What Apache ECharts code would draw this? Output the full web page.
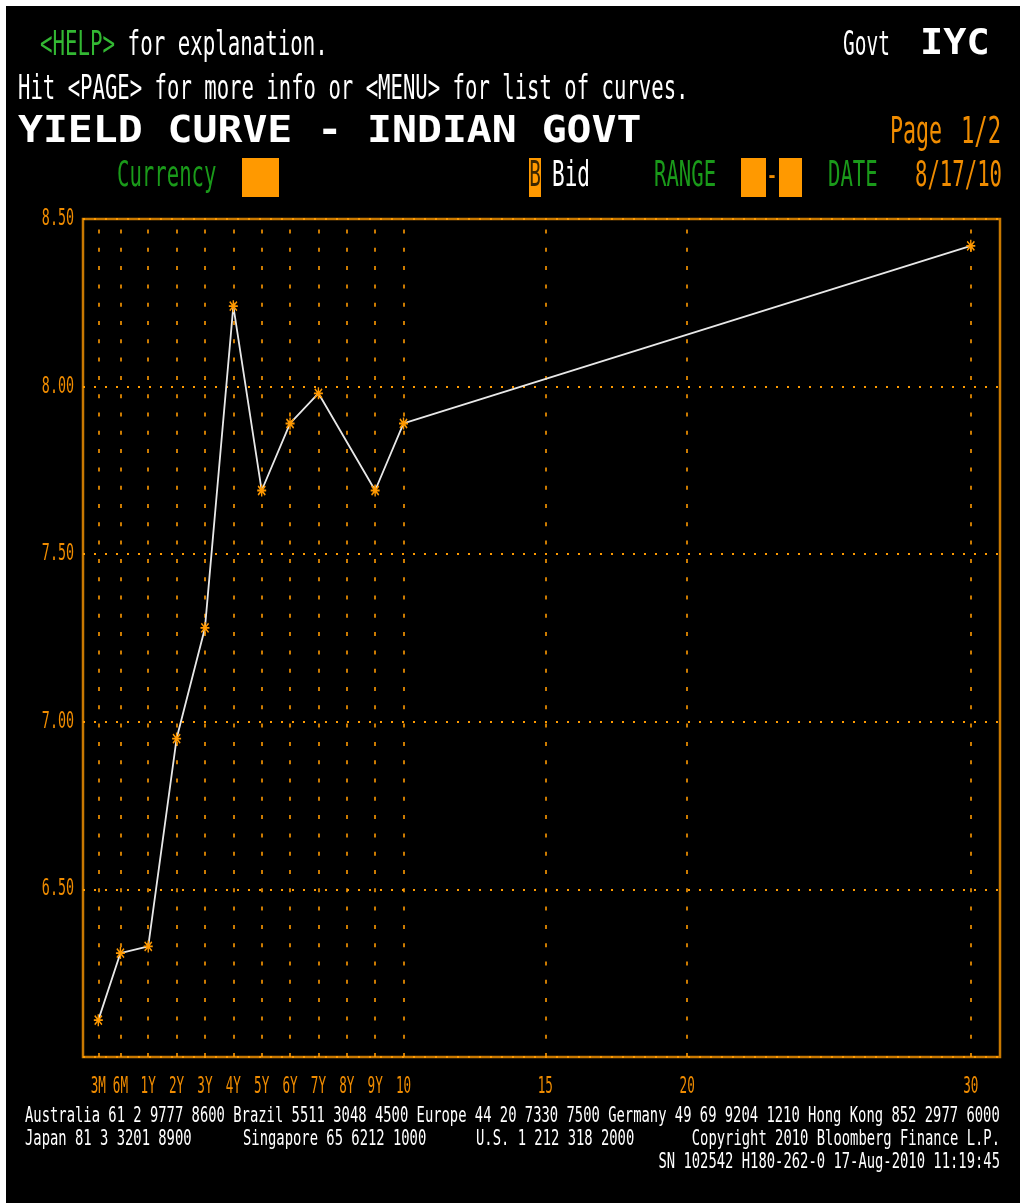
<!DOCTYPE html>
<html>
<head>
<meta charset="utf-8">
<script src="https://cdn.jsdelivr.net/npm/echarts@6/dist/echarts.min.js"></script>
<style>
  html, body { margin: 0; padding: 0; background: #000; }
  #chart { position: absolute; left: 0; top: 0; width: 1020px; height: 1203px; }
  .edge { position: absolute; background: #fff; pointer-events: none; }
</style>
</head>
<body>
<div id="chart"></div>
<div class="edge" style="left:0;top:0;width:1020px;height:6px;"></div>
<div class="edge" style="left:0;top:0;width:6px;height:1203px;"></div>
<script>
// ---- data ----
const tenorLabels = ['3M','6M','1Y','2Y','3Y','4Y','5Y','6Y','7Y','8Y','9Y','10','15','20','30'];
// position of each tenor on the (Bloomberg-style) maturity axis, in years
const tenorAxisPos = [-0.76, 0.02, 1, 2, 3, 4, 5, 6, 7, 8, 9, 10, 15, 20, 30];
const curveTenors = ['3M','6M','1Y','2Y','3Y','4Y','5Y','6Y','7Y','9Y','10','30'];
const curveYields = [6.11, 6.31, 6.33, 6.95, 7.28, 8.24, 7.69, 7.89, 7.98, 7.69, 7.89, 8.42];
const yTickValues = [6.50, 7.00, 7.50, 8.00, 8.50];
const yTickLabels = ['6.50', '7.00', '7.50', '8.00', '8.50'];

const ORANGE_TXT = '#f08c00';
const ORANGE_FRAME = '#c87800';
const ORANGE_DOT = '#ff9a00';
const ORANGE_BOX = '#ff9900';
const GREEN = '#1a9a1a';
const GREEN_HELP = '#33b833';
const MONO = '"DejaVu Sans Mono", "Liberation Mono", monospace';

const posOf = t => tenorAxisPos[tenorLabels.indexOf(t)];
const curveData = curveTenors.map((t, i) => [posOf(t), curveYields[i]]);

const chart = echarts.init(document.getElementById('chart'), null, { renderer: 'canvas' });

const option = {
  backgroundColor: '#000',
  animation: false,
  grid: {
    left: 83, top: 219, right: 20, bottom: 146,
    show: true, borderColor: ORANGE_FRAME, borderWidth: 2.5,
    backgroundColor: 'transparent'
  },
  xAxis: {
    type: 'value', min: -1.3, max: 31.03,
    axisLine: { show: false }, axisTick: { show: false },
    axisLabel: { show: false }, splitLine: { show: false }
  },
  yAxis: {
    type: 'value', min: 6, max: 8.5, interval: 0.5,
    axisLine: { show: false }, axisTick: { show: false },
    axisLabel: { show: false },
    splitLine: { show: true, lineStyle: { color: ORANGE_DOT, width: 2, type: [2, 9] } }
  },
  series: [{
    type: 'line',
    data: curveData,
    lineStyle: { color: '#e8e8e8', width: 1.8 },
    symbol: 'path://M5,0L5,12M0,6L10,6M1,1.5L9,10.5M1,10.5L9,1.5',
    symbolSize: [9, 12],
    itemStyle: { color: ORANGE_BOX, borderColor: ORANGE_BOX, borderWidth: 1.6 },
    z: 5,
    markLine: {
      silent: true,
      symbol: 'none',
      label: { show: false },
      lineStyle: { color: ORANGE_DOT, width: 1.6, type: [4, 14.3] },
      data: tenorAxisPos.map(v => ({ xAxis: v })),
      z: 1
    }
  }]
};
chart.setOption(option);

function txt(text, x, y, size, scaleX, fill, opts) {
  opts = opts || {};
  const font = (opts.bold ? 'bold ' : '') + size + 'px ' + MONO;
  const st = {
    text: text, fill: fill, font: font,
    textAlign: opts.align || 'left', align: opts.align || 'left',
    textVerticalAlign: 'middle', verticalAlign: 'middle'
  };
  if (opts.rich) st.rich = opts.rich;
  return { type: 'text', x: x, y: y, scaleX: scaleX, silent: true, z: 100, style: st };
}
function box(x, y, w, h, fill) {
  return { type: 'rect', shape: { x: x, y: y, width: w, height: h }, style: { fill: fill }, silent: true, z: 90 };
}

const g = [];
// header
g.push(txt('{g|<HELP>}{w| for explanation.}', 40, 46, 33, 0.63, '#fff', {
  rich: {
    g: { fill: GREEN_HELP, font: '33px ' + MONO },
    w: { fill: '#ffffff', font: '33px ' + MONO }
  }
}));
g.push(txt('Govt', 843, 46, 33, 0.59, '#fff'));
g.push(txt('IYC', 920, 45, 36, 1.07, '#fff', { bold: true }));
g.push(txt('Hit <PAGE> for more info or <MENU> for list of curves.', 18, 90, 33, 0.625, '#fff'));
g.push(txt('YIELD CURVE - INDIAN GOVT', 18, 132, 38, 1.09, '#fff', { bold: true }));
g.push(txt('Page', 890, 133, 37, 0.585, ORANGE_TXT));
g.push(txt('1/2', 1001, 133, 37, 0.6, ORANGE_TXT, { align: 'right' }));
g.push(txt('Currency', 117, 177, 35, 0.59, GREEN));
g.push(box(242, 158, 37, 39, ORANGE_BOX));
g.push(box(529, 158, 12, 39, ORANGE_BOX));
g.push(txt('B', 535, 177, 35, 0.55, '#3a2600', { align: 'center' }));
g.push(txt('Bid', 552, 177, 35, 0.6, '#fff'));
g.push(txt('RANGE', 654, 177, 35, 0.59, GREEN));
g.push(box(741, 158, 25, 39, ORANGE_BOX));
g.push(txt('-', 772, 177, 35, 0.59, ORANGE_TXT, { align: 'center' }));
g.push(box(779, 158, 23, 39, ORANGE_BOX));
g.push(txt('DATE', 828, 177, 35, 0.59, GREEN));
g.push(txt('8/17/10', 915, 177, 35, 0.59, ORANGE_TXT));

// axis tick labels, positioned through the chart's own scales
tenorLabels.forEach((lab, i) => {
  const p = chart.convertToPixel({ gridIndex: 0 }, [tenorAxisPos[i], 6]);
  g.push(txt(lab, p[0], 1087.5, 23, 0.55, ORANGE_TXT, { align: 'center' }));
});
yTickValues.forEach((v, i) => {
  const p = chart.convertToPixel({ gridIndex: 0 }, [0, v]);
  g.push(txt(yTickLabels[i], 74, p[1], 23, 0.58, ORANGE_TXT, { align: 'right' }));
});

// footer
const FS = 20.5, FX = 0.675;
g.push(txt('Australia 61 2 9777 8600 Brazil 5511 3048 4500 Europe 44 20 7330 7500 Germany 49 69 9204 1210 Hong Kong 852 2977 6000', 25, 1117, FS, FX, '#fff'));
g.push(txt('Japan 81 3 3201 8900', 25, 1140, FS, FX, '#fff'));
g.push(txt('Singapore 65 6212 1000', 243, 1140, FS, FX, '#fff'));
g.push(txt('U.S. 1 212 318 2000', 476, 1140, FS, FX, '#fff'));
g.push(txt('Copyright 2010 Bloomberg Finance L.P.', 1000, 1140, FS, FX, '#fff', { align: 'right' }));
g.push(txt('SN 102542 H180-262-0 17-Aug-2010 11:19:45', 1000, 1163, FS, FX, '#fff', { align: 'right' }));

chart.setOption({ graphic: { elements: g } });
</script>
</body>
</html>
